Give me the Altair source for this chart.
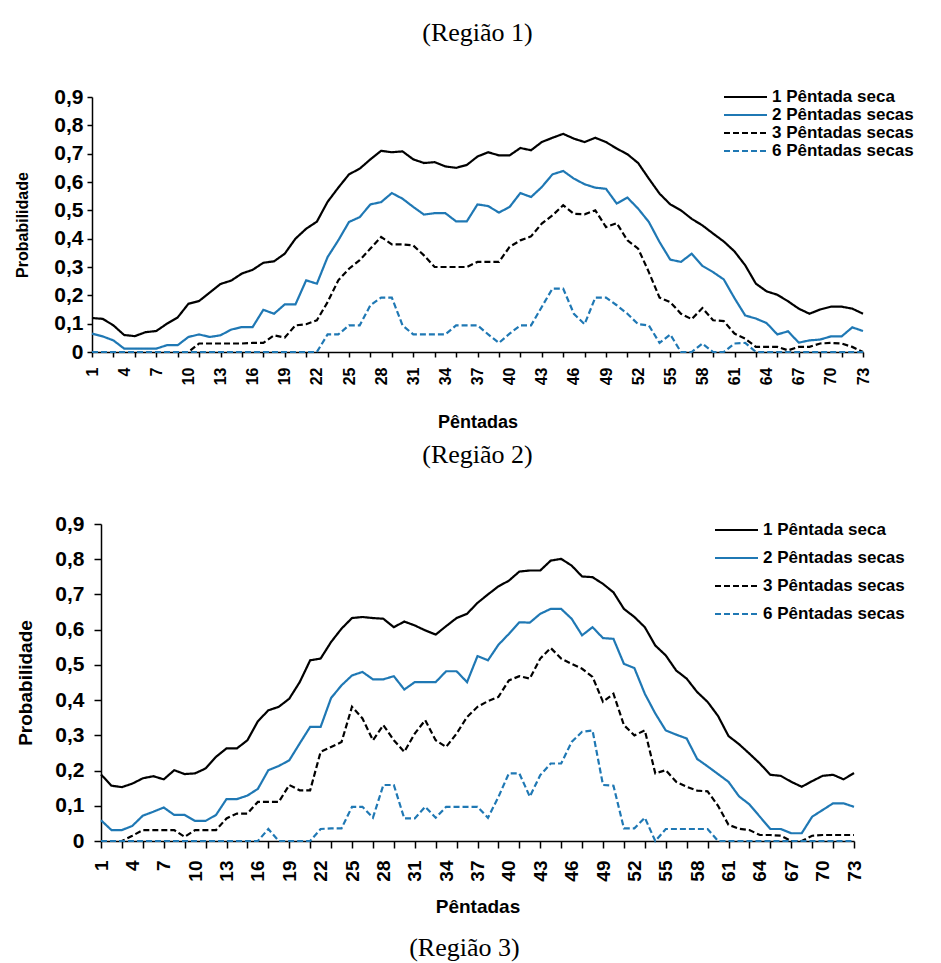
import altair as alt
import pandas as pd

pentadas = list(range(1, 74))
series_names = ["1 Pêntada seca", "2 Pêntadas secas", "3 Pêntadas secas", "6 Pêntadas secas"]
series_colors = ["#000000", "#1f78b4", "#000000", "#1f78b4"]
series_dash = [[1, 0], [1, 0], [6, 3], [6, 3]]
y_ticks = [0, 0.1, 0.2, 0.3, 0.4, 0.5, 0.6, 0.7, 0.8, 0.9]

# Região 1
r1_s1 = [0.12, 0.117, 0.094, 0.06, 0.056, 0.07, 0.074, 0.1, 0.122, 0.17,
         0.18, 0.21, 0.24, 0.252, 0.277, 0.29, 0.315, 0.32, 0.347, 0.40,
         0.435, 0.46, 0.53, 0.58, 0.627, 0.647, 0.68, 0.71, 0.705, 0.708,
         0.68, 0.667, 0.67, 0.655, 0.65, 0.66, 0.69, 0.705, 0.694, 0.694,
         0.72, 0.712, 0.741, 0.756, 0.77, 0.753, 0.741, 0.756, 0.741, 0.718,
         0.698, 0.667, 0.612, 0.559, 0.521, 0.5, 0.47, 0.447, 0.418, 0.39,
         0.355, 0.306, 0.241, 0.214, 0.202, 0.179, 0.153, 0.135, 0.15, 0.16,
         0.16, 0.153, 0.135]
r1_s2 = [0.065, 0.055, 0.041, 0.012, 0.012, 0.012, 0.012, 0.024, 0.024, 0.053,
         0.062, 0.053, 0.059, 0.079, 0.088, 0.088, 0.149, 0.135, 0.168, 0.168,
         0.253, 0.241, 0.335, 0.394, 0.459, 0.476, 0.521, 0.529, 0.561, 0.541,
         0.512, 0.485, 0.49, 0.49, 0.461, 0.461, 0.521, 0.515, 0.492, 0.512,
         0.561, 0.547, 0.582, 0.627, 0.639, 0.612, 0.592, 0.58, 0.576, 0.524,
         0.545, 0.506, 0.459, 0.388, 0.326, 0.318, 0.347, 0.304, 0.282, 0.256,
         0.19, 0.129, 0.118, 0.102, 0.062, 0.073, 0.033, 0.041, 0.044, 0.055,
         0.055, 0.087, 0.074]
r1_s3 = [0, 0, 0, 0, 0, 0, 0, 0, 0, 0,
         0.03, 0.03, 0.03, 0.03, 0.03, 0.032, 0.032, 0.059, 0.051, 0.094,
         0.098, 0.112, 0.176, 0.253, 0.294, 0.324, 0.365, 0.406, 0.38, 0.38,
         0.376, 0.341, 0.3, 0.3, 0.3, 0.3, 0.318, 0.318, 0.318, 0.371,
         0.394, 0.408, 0.453, 0.482, 0.518, 0.488, 0.486, 0.5, 0.441, 0.455,
         0.394, 0.365, 0.282, 0.192, 0.176, 0.135, 0.116, 0.155, 0.112, 0.109,
         0.065, 0.047, 0.018, 0.018, 0.018, 0.006, 0.018, 0.018, 0.03, 0.032,
         0.03, 0.018, 0]
r1_s6 = [0, 0, 0, 0, 0, 0, 0, 0, 0, 0,
         0, 0, 0, 0, 0, 0, 0, 0, 0, 0,
         0, 0, 0.062, 0.062, 0.094, 0.094, 0.165, 0.192, 0.192, 0.094,
         0.062, 0.062, 0.062, 0.062, 0.094, 0.094, 0.094, 0.062, 0.032, 0.065,
         0.094, 0.094, 0.159, 0.224, 0.224, 0.135, 0.098, 0.192, 0.192, 0.165,
         0.135, 0.098, 0.094, 0.032, 0.062, 0, 0, 0.03, 0, 0,
         0.03, 0.032, 0, 0, 0, 0, 0, 0, 0, 0,
         0, 0, 0]

# Região 2
r2_s1 = [0.189, 0.157, 0.153, 0.163, 0.178, 0.184, 0.175, 0.201, 0.19, 0.192,
         0.206, 0.239, 0.263, 0.263, 0.286, 0.34, 0.371, 0.381, 0.404, 0.451,
         0.513, 0.518, 0.565, 0.603, 0.633, 0.636, 0.633, 0.631, 0.607, 0.623,
         0.612, 0.598, 0.586, 0.61, 0.633, 0.645, 0.676, 0.7, 0.723, 0.739,
         0.765, 0.768, 0.768, 0.796, 0.801, 0.782, 0.751, 0.749, 0.73, 0.706,
         0.659, 0.636, 0.607, 0.555, 0.527, 0.484, 0.461, 0.423, 0.395, 0.355,
         0.298, 0.275, 0.248, 0.22, 0.188, 0.185, 0.168, 0.154, 0.17, 0.185,
         0.188, 0.175, 0.193]
r2_s2 = [0.059, 0.031, 0.031, 0.043, 0.072, 0.083, 0.095, 0.074, 0.074, 0.057,
         0.057, 0.074, 0.119, 0.119, 0.129, 0.148, 0.201, 0.213, 0.229, 0.277,
         0.324, 0.324, 0.406, 0.442, 0.47, 0.48, 0.459, 0.459, 0.468, 0.43,
         0.451, 0.451, 0.451, 0.482, 0.482, 0.451, 0.525, 0.513, 0.557, 0.588,
         0.621, 0.62, 0.645, 0.659, 0.659, 0.631, 0.584, 0.607, 0.576, 0.574,
         0.503, 0.491, 0.418, 0.362, 0.314, 0.302, 0.291, 0.233, 0.212, 0.19,
         0.168, 0.127, 0.104, 0.069, 0.034, 0.034, 0.022, 0.022, 0.069, 0.088,
         0.107, 0.107, 0.097]
r2_s3 = [0, 0, 0, 0.015, 0.031, 0.031, 0.031, 0.031, 0.012, 0.031,
         0.031, 0.031, 0.064, 0.078, 0.078, 0.111, 0.111, 0.111, 0.159, 0.144,
         0.144, 0.253, 0.267, 0.281, 0.381, 0.348, 0.286, 0.329, 0.286, 0.253,
         0.305, 0.343, 0.286, 0.267, 0.305, 0.352, 0.381, 0.397, 0.409, 0.456,
         0.468, 0.461, 0.518, 0.548, 0.518, 0.503, 0.489, 0.466, 0.395, 0.418,
         0.329, 0.3, 0.314, 0.192, 0.201, 0.168, 0.154, 0.143, 0.141, 0.1,
         0.046, 0.035, 0.031, 0.017, 0.017, 0.015, 0, 0, 0.015, 0.017,
         0.017, 0.017, 0.017]
r2_s6 = [0, 0, 0, 0, 0, 0, 0, 0, 0, 0,
         0, 0, 0, 0, 0, 0, 0.034, 0, 0, 0,
         0, 0.034, 0.036, 0.036, 0.097, 0.097, 0.066, 0.159, 0.159, 0.064,
         0.064, 0.097, 0.066, 0.097, 0.097, 0.097, 0.097, 0.066, 0.125, 0.192,
         0.192, 0.126, 0.187, 0.22, 0.22, 0.281, 0.31, 0.314, 0.159, 0.157,
         0.036, 0.036, 0.066, 0, 0.034, 0.034, 0.034, 0.034, 0.034, 0,
         0, 0, 0, 0, 0, 0, 0, 0, 0, 0,
         0, 0, 0]


def long_df(cols):
    rows = []
    for name, vals in zip(series_names, cols):
        for p, v in zip(pentadas, vals):
            rows.append({"p": p, "v": v, "s": name})
    return pd.DataFrame(rows)


def panel(df, w, h, title_text, title_offset, xlab_fs, ylab_fs, ytitle_fs, xtitle_fs,
          tick, xlab_pad, ylab_pad, xtitle_pad, ytitle_pad, leg_fs, legx, legy, clip, rowpad):
    leg = alt.Legend(orient="none", legendX=legx, legendY=legy, title=None,
                     symbolType="stroke", symbolSize=1849, symbolStrokeWidth=2,
                     labelFont="Liberation Sans", labelFontWeight="bold",
                     labelFontSize=leg_fs, labelColor="black", clipHeight=clip,
                     rowPadding=rowpad, padding=0, labelOffset=4)
    x = alt.X("p:Q", scale=alt.Scale(domain=[1, 73], nice=False, zero=False),
              axis=alt.Axis(values=pentadas, labelAngle=270, labelFlush=False,
                            labelExpr="(datum.value - 1) % 3 == 0 ? format(datum.value, 'd') : ''",
                            labelOverlap=False, labelFontSize=xlab_fs, labelPadding=xlab_pad,
                            tickSize=tick,
                            tickOpacity={"condition": {"test": "datum.value % 2 == 1", "value": 1}, "value": 0},
                            title="Pêntadas", titleFontSize=xtitle_fs, titlePadding=xtitle_pad))
    y = alt.Y("v:Q", scale=alt.Scale(domain=[0, 0.9], nice=False),
              axis=alt.Axis(values=y_ticks,
                            labelExpr="datum.value == 0 ? '0' : replace(format(datum.value, '.1f'), '.', ',')",
                            labelFontSize=ylab_fs, labelPadding=ylab_pad, tickSize=tick,
                            title="Probabilidade", titleFontSize=ytitle_fs, titlePadding=ytitle_pad))
    color = alt.Color("s:N", scale=alt.Scale(domain=series_names, range=series_colors), legend=leg)
    dash = alt.StrokeDash("s:N", scale=alt.Scale(domain=series_names, range=series_dash), legend=leg)
    return alt.Chart(df).mark_line(strokeWidth=2.2).encode(
        x=x, y=y, color=color, strokeDash=dash
    ).properties(
        width=w, height=h,
        title=alt.TitleParams(title_text, font="Liberation Serif", fontSize=26, fontWeight="normal",
                              color="black", offset=title_offset, anchor="middle")
    )


p1 = panel(long_df([r1_s1, r1_s2, r1_s3, r1_s6]), 771, 255, "(Região 1)", 40,
           16, 21, 16, 18, 5, 10, 4, 29, 23, 17, 631, -8, 16, 1)
p2 = panel(long_df([r2_s1, r2_s2, r2_s3, r2_s6]), 753, 317, "(Região 2)", 45,
           19, 21, 19, 19, 7, 12, 10, 16, 19, 17, 613, -3, 18, 10)

chart = alt.vconcat(p1, p2, spacing=172, center=True, bounds="flush").resolve_scale(
    color="independent", strokeDash="independent"
).resolve_legend(
    color="independent", strokeDash="independent"
).properties(
    title=alt.TitleParams("(Região 3)", orient="bottom", font="Liberation Serif", fontSize=26,
                          fontWeight="normal", color="black", offset=19, anchor="middle"),
    padding={"left": 6, "top": 12, "right": 5, "bottom": 0}
).configure_view(stroke=None).configure_axis(
    domainColor="black", tickColor="black", labelColor="black", titleColor="black",
    grid=False, labelFont="Liberation Sans", titleFont="Liberation Sans",
    labelFontWeight="bold", titleFontWeight="bold", domainWidth=1.5, tickWidth=1.5
)

chart.save("out.html", embed_options={"renderer": "svg", "actions": False})
